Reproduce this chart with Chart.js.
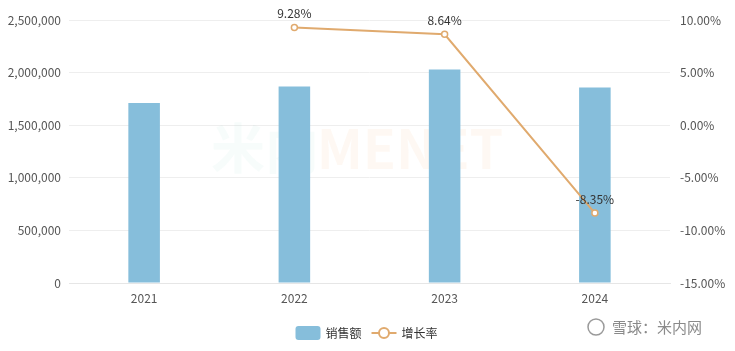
<!DOCTYPE html>
<html>
<head>
<meta charset="utf-8">
<script src="https://cdn.jsdelivr.net/npm/chart.js@4"></script>
<style>
  html, body { margin: 0; padding: 0; background: #fff; }
  #wrap { width: 735px; height: 351px; position: relative; }
</style>
</head>
<body>
<div id="wrap"><canvas id="graficaVentas"></canvas></div>
<script>
// datos de la grafica
const anios = ['2021', '2022', '2023', '2024'];
const ventas = [1711000, 1868000, 2029000, 1858000];
const crecimiento = [null, 9.28, 8.64, -8.35];

const FUENTE = '"Noto Sans CJK SC", "Noto Sans", sans-serif';
const COLOR_BARRA = '#86bedb';
const COLOR_LINEA = '#e0aa6e';

// etiquetas sobre los puntos de la linea
const etiquetasLinea = {
    id: 'etiquetasLinea',
    afterDatasetsDraw(chart) {
        const ctx = chart.ctx;
        const meta = chart.getDatasetMeta(1);
        ctx.save();
        ctx.font = '12px ' + FUENTE;
        ctx.fillStyle = '#333';
        ctx.textAlign = 'center';
        ctx.textBaseline = 'middle';
        meta.data.forEach((p, i) => {
            const v = crecimiento[i];
            if (v === null || p.skip) return;
            ctx.fillText(v.toFixed(2) + '%', p.x, p.y - 14);
        });
        ctx.restore();
    }
};

// marca de agua y leyenda inferior
const extras = {
    id: 'extras',
    beforeDatasetsDraw(chart) {
        const ctx = chart.ctx;
        ctx.save();
        ctx.font = 'bold 54px ' + FUENTE;
        ctx.textAlign = 'center';
        ctx.textBaseline = 'middle';
        ctx.fillStyle = 'rgba(120,200,190,0.06)';
        ctx.fillText('米内', 265, 148);
        ctx.fillStyle = 'rgba(240,160,90,0.07)';
        ctx.fillText('MENET', 410, 148);
        ctx.restore();
    },
    afterDraw(chart) {
        const ctx = chart.ctx;
        const cx = chart.width / 2;
        const y = 333;
        ctx.save();
        // cuadro de ventas
        ctx.fillStyle = COLOR_BARRA;
        ctx.beginPath();
        ctx.roundRect(cx - 72, y - 7, 25, 14, 3);
        ctx.fill();
        ctx.font = '12px ' + FUENTE;
        ctx.fillStyle = '#333';
        ctx.textBaseline = 'middle';
        ctx.textAlign = 'left';
        ctx.fillText('销售额', cx - 42, y);
        // linea de crecimiento
        ctx.strokeStyle = COLOR_LINEA;
        ctx.lineWidth = 2;
        ctx.beginPath();
        ctx.moveTo(cx + 4, y);
        ctx.lineTo(cx + 29, y);
        ctx.stroke();
        ctx.fillStyle = '#fff';
        ctx.beginPath();
        ctx.arc(cx + 16.5, y, 5, 0, Math.PI * 2);
        ctx.fill();
        ctx.stroke();
        ctx.fillStyle = '#333';
        ctx.fillText('增长率', cx + 34, y);
        // firma
        ctx.font = '15px ' + FUENTE;
        ctx.fillStyle = '#8a8a8a';
        ctx.fillText('雪球：米内网', 612, 327);
        ctx.strokeStyle = '#9a9a9a';
        ctx.lineWidth = 1.5;
        ctx.beginPath();
        ctx.arc(596, 327, 8, 0, Math.PI * 2);
        ctx.stroke();
        ctx.restore();
    }
};

const ctx = document.getElementById('graficaVentas').getContext('2d');

window.graficaInstancia = new Chart(ctx, {
    data: {
        labels: anios,
        datasets: [
            {
                type: 'bar',
                label: '销售额',
                data: ventas,
                backgroundColor: COLOR_BARRA,
                borderWidth: 0,
                barPercentage: 0.21,
                categoryPercentage: 1,
                yAxisID: 'y',
                order: 2
            },
            {
                type: 'line',
                label: '增长率',
                data: crecimiento,
                borderColor: COLOR_LINEA,
                backgroundColor: '#fff',
                borderWidth: 2,
                pointRadius: 3,
                pointBorderWidth: 1.5,
                pointBackgroundColor: '#fff',
                tension: 0,
                yAxisID: 'y1',
                order: 1
            }
        ]
    },
    options: {
        responsive: true,
        maintainAspectRatio: false,
        animation: false,
        layout: { padding: { top: 20, bottom: 40, left: 0, right: 0 } },
        plugins: {
            legend: { display: false },
            tooltip: { enabled: false }
        },
        scales: {
            x: {
                grid: { display: false },
                border: { color: '#e6e6e6' },
                ticks: { color: '#555', font: { size: 12, family: FUENTE }, padding: 0 },
                afterFit(scale) { scale.height = 28; }
            },
            y: {
                position: 'left',
                min: 0,
                max: 2500000,
                ticks: {
                    stepSize: 500000,
                    color: '#555',
                    padding: 8,
                    font: { size: 12, family: FUENTE },
                    callback: v => v.toLocaleString('en-US')
                },
                grid: { color: '#eeeeee', drawTicks: false },
                border: { display: false },
                afterFit(scale) { scale.width = 69; }
            },
            y1: {
                position: 'right',
                min: -15,
                max: 10,
                ticks: {
                    stepSize: 5,
                    color: '#555',
                    padding: 10,
                    font: { size: 12, family: FUENTE },
                    callback: v => v.toFixed(2) + '%'
                },
                grid: { display: false, drawTicks: false },
                border: { display: false },
                afterFit(scale) { scale.width = 65; }
            }
        }
    },
    plugins: [etiquetasLinea, extras]
});
</script>
</body>
</html>
